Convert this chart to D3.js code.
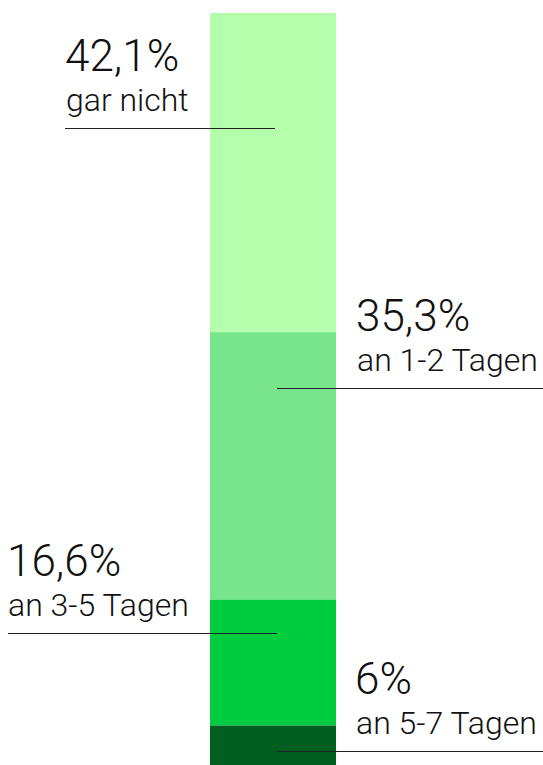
<!DOCTYPE html>
<html lang="de">
<head>
  <meta charset="UTF-8">
  <title>Tage</title>
  <script src="https://cdn.jsdelivr.net/npm/d3@7"></script>
  <style>
    html, body {
      margin: 0;
      padding: 0;
      background: #fff;
    }
    svg { display: block; }
    text { font-family: Roboto, "Noto Sans", sans-serif; font-weight: 300; fill: #111; }
  </style>
</head>
<body>
  <div id="stage"></div>
  <script>
    // data
    const categories = ['gar nicht', 'an 1-2 Tagen', 'an 3-5 Tagen', 'an 5-7 Tagen'];
    const values = [42.1, 35.3, 16.6, 6];
    const valueLabels = ['42,1%', '35,3%', '16,6%', '6%'];
    const colors = ['#b5ffac', '#78e58c', '#00cc40', '#005f1f'];

    const width = 543, height = 765;

    const svg = d3.select('#stage').append('svg')
      .attr('width', width)
      .attr('height', height);

    // 100% is taller than the picture, the bottom is cut off
    const y = d3.scaleLinear().domain([0, 100]).range([13, 771]);
    const x = d3.scaleBand().domain(['bar']).range([210, 336]);

    let acc = 0;
    const stack = values.map((v, i) => {
      const d = {cat: categories[i], v, label: valueLabels[i], y0: acc, y1: acc + v, color: colors[i]};
      acc += v;
      return d;
    });

    svg.selectAll('rect.seg')
      .data(stack)
      .join('rect')
      .attr('class', 'seg')
      .attr('x', x('bar'))
      .attr('width', x.bandwidth())
      .attr('y', d => y(d.y0))
      .attr('height', d => y(d.y1) - y(d.y0))
      .attr('fill', d => d.color);

    // annotation layout: side, text x, line y, line span
    const notes = [
      {side: 'left', tx: 65, ly: 128, x1: 65, x2: 275},
      {side: 'right', tx: 356, ly: 388, x1: 277, x2: 543},
      {side: 'left', tx: 7, ly: 633, x1: 8, x2: 277},
      {side: 'right', tx: 355, ly: 751, x1: 277, x2: 543}
    ];

    const g = svg.selectAll('g.note')
      .data(stack)
      .join('g')
      .attr('class', 'note');

    g.append('line')
      .attr('x1', (d, i) => notes[i].x1)
      .attr('x2', (d, i) => notes[i].x2)
      .attr('y1', (d, i) => notes[i].ly + 0.5)
      .attr('y2', (d, i) => notes[i].ly + 0.5)
      .attr('stroke', '#222')
      .attr('stroke-width', 1.2);

    g.append('text')
      .attr('x', (d, i) => notes[i].tx)
      .attr('y', (d, i) => notes[i].ly - 57)
      .attr('font-size', 44)
      .text(d => d.label);

    g.append('text')
      .attr('x', (d, i) => notes[i].tx + 1)
      .attr('y', (d, i) => notes[i].ly - 17)
      .attr('font-size', 32)
      .text(d => d.cat);
  </script>
</body>
</html>
